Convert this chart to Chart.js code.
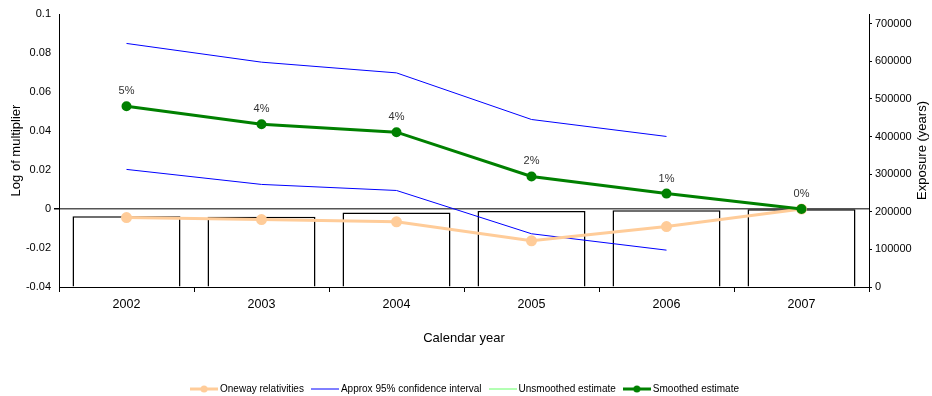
<!DOCTYPE html>
<html>
<head>
<meta charset="utf-8">
<script src="https://cdn.jsdelivr.net/npm/chart.js@4.4.1/dist/chart.umd.min.js"></script>
<style>
  html, body { margin: 0; padding: 0; background: #fff; }
  #wrap { width: 932px; height: 396px; position: relative; }
</style>
</head>
<body>
<div id="wrap"><canvas id="c" width="932" height="396"></canvas></div>
<script>
// Calendar years on the x axis
const years = ['2002', '2003', '2004', '2005', '2006', '2007'];

// Log-multiplier series (left axis)
const oneway     = [-0.0044, -0.0054, -0.0066, -0.0163, -0.0090, 0];
const ciUpper    = [0.0849, 0.0753, 0.0698, 0.0459, 0.0372, null];
const ciLower    = [0.0203, 0.0126, 0.0095, -0.0127, -0.0211, null];
const unsmoothed = [null, null, null, null, null, null];
const smoothed   = [0.0527, 0.0435, 0.0394, 0.0167, 0.0079, 0];

// Exposure in years (right axis)
const exposure = [188000, 187000, 198000, 202000, 204000, 207000];

// Axis tick values
const leftTicks  = [-0.04, -0.02, 0, 0.02, 0.04, 0.06, 0.08, 0.1];
const rightTicks = [0, 100000, 200000, 300000, 400000, 500000, 600000, 700000];

const FONT = '"Liberation Sans", Arial, Helvetica, sans-serif';
const W = 932, H = 396, PLOT_BOTTOM = 287, PLOT_LEFT = 59, PLOT_RIGHT = 869;

const C_ONEWAY = '#FFCC99';
const C_CI = '#0000FF';
const C_UNSM = '#66FF66';
const C_SMOOTH = '#008000';

// Small line-with-marker swatches for the legend
function swatch(color, lineWidth, dot) {
  const c = document.createElement('canvas');
  c.width = 28; c.height = 10;
  const g = c.getContext('2d');
  g.strokeStyle = color; g.lineWidth = lineWidth;
  g.beginPath(); g.moveTo(0, 5); g.lineTo(28, 5); g.stroke();
  if (dot) {
    g.fillStyle = color;
    g.beginPath(); g.arc(14, 5, 3.5, 0, Math.PI * 2); g.fill();
  }
  return c;
}
const swatches = {
  0: swatch(C_ONEWAY, 3, true),
  1: swatch(C_CI, 1, false),
  2: swatch(C_UNSM, 1, false),
  3: swatch(C_SMOOTH, 3, true)
};

const pctLabel = v => Math.round((Math.exp(v) - 1) * 100) + '%';

// Percentage labels above the smoothed estimate points
const smoothLabels = {
  id: 'smoothLabels',
  afterDatasetsDraw(chart) {
    const meta = chart.getDatasetMeta(3);
    const ctx = chart.ctx;
    ctx.save();
    ctx.font = '11px ' + FONT;
    ctx.fillStyle = '#333';
    ctx.textAlign = 'center';
    ctx.textBaseline = 'middle';
    meta.data.forEach((pt, i) => {
      if (smoothed[i] === null) return;
      ctx.fillText(pctLabel(smoothed[i]), pt.x, pt.y - 15);
    });
    ctx.restore();
  }
};

// Right-hand axis title, reading bottom to top
const rightTitle = {
  id: 'rightTitle',
  afterDraw(chart) {
    const a = chart.chartArea, ctx = chart.ctx;
    ctx.save();
    ctx.translate(922, (a.top + a.bottom) / 2);
    ctx.rotate(-Math.PI / 2);
    ctx.font = '13px ' + FONT;
    ctx.fillStyle = '#000';
    ctx.textAlign = 'center';
    ctx.textBaseline = 'middle';
    ctx.fillText('Exposure (years)', 0, 0);
    ctx.restore();
  }
};

// Nudge the legend row towards the bottom edge
const legendShift = {
  id: 'legendShift',
  afterLayout(chart) {
    if (chart.legend) { chart.legend.top += 8; chart.legend.bottom += 8; }
  }
};

const lineBase = { type: 'line', yAxisID: 'y', spanGaps: false, tension: 0 };

new Chart(document.getElementById('c'), {
  type: 'bar',
  data: {
    labels: years,
    datasets: [
      Object.assign({}, lineBase, {
        label: 'Oneway relativities', data: oneway, order: 3,
        borderColor: C_ONEWAY, backgroundColor: C_ONEWAY, borderWidth: 3,
        pointRadius: 4, pointBackgroundColor: C_ONEWAY, pointBorderColor: C_ONEWAY
      }),
      Object.assign({}, lineBase, {
        label: 'Approx 95% confidence interval', data: ciUpper, order: 4,
        borderColor: C_CI, backgroundColor: C_CI, borderWidth: 1, pointRadius: 0
      }),
      Object.assign({}, lineBase, {
        label: 'Unsmoothed estimate', data: unsmoothed, order: 2,
        borderColor: C_UNSM, backgroundColor: C_UNSM, borderWidth: 1, pointRadius: 0
      }),
      Object.assign({}, lineBase, {
        label: 'Smoothed estimate', data: smoothed, order: 1,
        borderColor: C_SMOOTH, backgroundColor: C_SMOOTH, borderWidth: 3,
        pointRadius: 3.5, pointBackgroundColor: C_SMOOTH, pointBorderColor: C_SMOOTH
      }),
      Object.assign({}, lineBase, {
        label: 'CI lower', data: ciLower, order: 4,
        borderColor: C_CI, backgroundColor: C_CI, borderWidth: 1, pointRadius: 0
      }),
      {
        type: 'bar', label: 'Exposure', data: exposure, yAxisID: 'y2', order: 10,
        backgroundColor: '#FFFFFF', borderColor: '#000000', borderWidth: 1.5,
        barPercentage: 0.8, categoryPercentage: 1.0
      }
    ]
  },
  options: {
    responsive: false,
    animation: false,
    devicePixelRatio: 1,
    layout: { padding: { top: 14, left: 0, right: 0, bottom: 0 } },
    plugins: {
      tooltip: { enabled: false },
      legend: {
        position: 'bottom',
        labels: {
          font: { family: FONT, size: 10 },
          color: '#000',
          usePointStyle: true,
          pointStyleWidth: 22,
          boxHeight: 10,
          padding: 10,
          filter: item => item.datasetIndex <= 3,
          sort: (a, b) => a.datasetIndex - b.datasetIndex,
          generateLabels(chart) {
            const items = Chart.defaults.plugins.legend.labels.generateLabels(chart);
            items.forEach(it => { it.pointStyle = swatches[it.datasetIndex] || 'line'; it.hidden = false; });
            return items;
          }
        },
        onClick: () => {}
      }
    },
    scales: {
      x: {
        offset: true,
        afterFit(scale) {
          const lg = scale.chart.legend;
          scale.height = H - PLOT_BOTTOM - (lg ? lg.height : 0);
        },
        grid: { offset: true, drawOnChartArea: false, drawTicks: true, tickLength: 5, color: '#000' },
        border: { display: true, color: '#000', width: 1 },
        ticks: { font: { family: FONT, size: 12.5 }, color: '#000', padding: 5, maxRotation: 0 },
        title: {
          display: true, text: 'Calendar year', color: '#000',
          font: { family: FONT, size: 13 }, padding: { top: 0, bottom: 20 }
        }
      },
      y: {
        position: 'left',
        min: -0.04, max: 0.1,
        afterFit(scale) { scale.width = PLOT_LEFT; },
        afterBuildTicks(scale) { scale.ticks = leftTicks.map(v => ({ value: v })); },
        ticks: {
          font: { family: FONT, size: 11 }, color: '#000', padding: 3,
          callback: v => String(+v.toFixed(2))
        },
        grid: {
          drawTicks: true, tickLength: 5, tickColor: '#000',
          color: ctx => (ctx.tick && Math.abs(ctx.tick.value) < 1e-9) ? '#555' : 'rgba(0,0,0,0)',
          lineWidth: ctx => (ctx.tick && Math.abs(ctx.tick.value) < 1e-9) ? 1.5 : 0
        },
        border: { display: true, color: '#000', width: 1 },
        title: {
          display: true, text: 'Log of multiplier', color: '#000',
          font: { family: FONT, size: 13 }, padding: { top: 9, bottom: 0 }
        }
      },
      y2: {
        position: 'right',
        min: 0, max: 726000,
        afterFit(scale) { scale.width = W - PLOT_RIGHT; },
        afterBuildTicks(scale) { scale.ticks = rightTicks.map(v => ({ value: v })); },
        ticks: {
          font: { family: FONT, size: 11 }, color: '#000', padding: 3,
          callback: v => String(v)
        },
        grid: { drawOnChartArea: false, drawTicks: true, tickLength: 3, color: '#000' },
        border: { display: true, color: '#000', width: 1 },
        title: { display: false }
      }
    }
  },
  plugins: [smoothLabels, rightTitle, legendShift]
});
</script>
</body>
</html>
